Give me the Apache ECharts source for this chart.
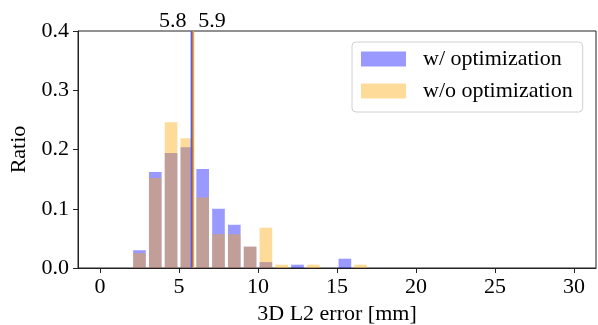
<!DOCTYPE html>
<html>
<head>
<meta charset="utf-8">
<script src="https://cdn.jsdelivr.net/npm/echarts@6/dist/echarts.min.js"></script>
<style>
html,body{margin:0;padding:0;background:#fff;}
#chart{width:598px;height:325px;}
</style>
</head>
<body>
<div id="chart"></div>
<script>
const binCenters = [2.5, 3.5, 4.5, 5.5, 6.5, 7.5, 8.5, 9.5, 10.5, 11.5, 12.5, 13.5, 14.5, 15.5, 16.5];
const withOpt    = [0.030, 0.162, 0.194, 0.204, 0.167, 0.100, 0.073, 0.036, 0.010, 0, 0.0056, 0, 0, 0.0157, 0];
const withoutOpt = [0.025, 0.152, 0.246, 0.219, 0.119, 0.057, 0.057, 0.036, 0.068, 0.0056, 0, 0.0056, 0, 0, 0.0056];
const meanWith = 5.8;
const meanWithout = 5.9;
const xTicks = [0, 5, 10, 15, 20, 25, 30];
const yTicks = [0.0, 0.1, 0.2, 0.3, 0.4];
const seriesNames = ['w/ optimization', 'w/o optimization'];

const FONT = 'Liberation Serif';
const HALF_W = 0.4;

function barRenderer(params, api) {
  const x = api.value(0), y = api.value(1);
  if (!y) return null;
  const p0 = api.coord([x - HALF_W, y]);
  const p1 = api.coord([x + HALF_W, 0]);
  return {
    type: 'rect',
    shape: {x: p0[0], y: p0[1], width: p1[0] - p0[0], height: p1[1] - p0[1]},
    style: {fill: api.visual('color')}
  };
}

function meanRenderer(side, color) {
  return function (params, api) {
    const x = api.value(0);
    const top = api.coord([x, yTicks[yTicks.length - 1]]);
    const bot = api.coord([x, 0]);
    return {
      type: 'group',
      children: [
        {type: 'line', shape: {x1: top[0], y1: top[1], x2: bot[0], y2: bot[1]},
         style: {stroke: color, lineWidth: 2}},
        {type: 'text', x: side === 'left' ? top[0] - 5 : top[0] + 5, y: top[1] + 1,
         style: {text: x.toFixed(1), font: '22px "' + FONT + '"', fill: '#000',
                 align: side === 'left' ? 'right' : 'left', verticalAlign: 'bottom'}}
      ]
    };
  };
}

const chart = echarts.init(document.getElementById('chart'), null, {renderer: 'canvas'});
chart.setOption({
  animation: false,
  backgroundColor: '#fff',
  textStyle: {fontFamily: FONT},
  grid: {left: 78, right: 2, top: 31, bottom: 57, show: true, borderColor: '#222', borderWidth: 1,
         backgroundColor: 'transparent', containLabel: false, outerBoundsMode: 'none'},
  legend: {
    data: seriesNames,
    orient: 'vertical',
    left: 352, top: 42,
    padding: [6, 10, 10, 9],
    itemWidth: 45, itemHeight: 15,
    itemGap: 10,
    icon: 'rect',
    borderColor: '#d0d0d0', borderWidth: 1, borderRadius: 4,
    backgroundColor: 'rgba(255,255,255,0.8)',
    textStyle: {fontFamily: FONT, fontSize: 22, color: '#000', lineHeight: 22, padding: [0, 0, 0, 12]}
  },
  xAxis: {
    type: 'value', min: -1.39, max: 31.39,
    name: '3D L2 error [mm]', nameLocation: 'middle', nameGap: 34,
    nameTextStyle: {fontFamily: FONT, fontSize: 22, color: '#000'},
    axisLine: {show: true, onZero: false, lineStyle: {color: '#222', width: 1}},
    axisTick: {show: true, inside: false, length: 5, lineStyle: {color: '#222'}, customValues: xTicks},
    axisLabel: {fontFamily: FONT, fontSize: 22, color: '#000', margin: 8, customValues: xTicks,
                formatter: v => String(v)},
    splitLine: {show: false}
  },
  yAxis: {
    type: 'value', min: 0, max: 0.4, interval: 0.1,
    name: 'Ratio', nameLocation: 'middle', nameGap: 42,
    nameTextStyle: {fontFamily: FONT, fontSize: 22, color: '#000'},
    axisLine: {show: true, onZero: false, lineStyle: {color: '#222', width: 1}},
    axisTick: {show: true, inside: false, length: 5, lineStyle: {color: '#222'}},
    axisLabel: {fontFamily: FONT, fontSize: 22, color: '#000', margin: 9, formatter: v => v.toFixed(1)},
    splitLine: {show: false}
  },
  series: [
    {name: seriesNames[0], type: 'custom', renderItem: barRenderer,
     itemStyle: {color: 'rgba(0,0,255,0.4)'},
     encode: {x: 0, y: 1},
     data: binCenters.map((c, i) => [c, withOpt[i]])},
    {name: seriesNames[1], type: 'custom', renderItem: barRenderer,
     itemStyle: {color: 'rgba(255,165,0,0.4)'},
     encode: {x: 0, y: 1},
     data: binCenters.map((c, i) => [c, withoutOpt[i]])},
    {type: 'custom', clip: false, renderItem: meanRenderer('left', '#5a5aee'),
     encode: {x: 0, y: 1}, data: [[meanWith, 0]], z: 5},
    {type: 'custom', clip: false, renderItem: meanRenderer('right', '#ffa500'),
     encode: {x: 0, y: 1}, data: [[meanWithout, 0]], z: 4}
  ]
});
</script>
</body>
</html>
